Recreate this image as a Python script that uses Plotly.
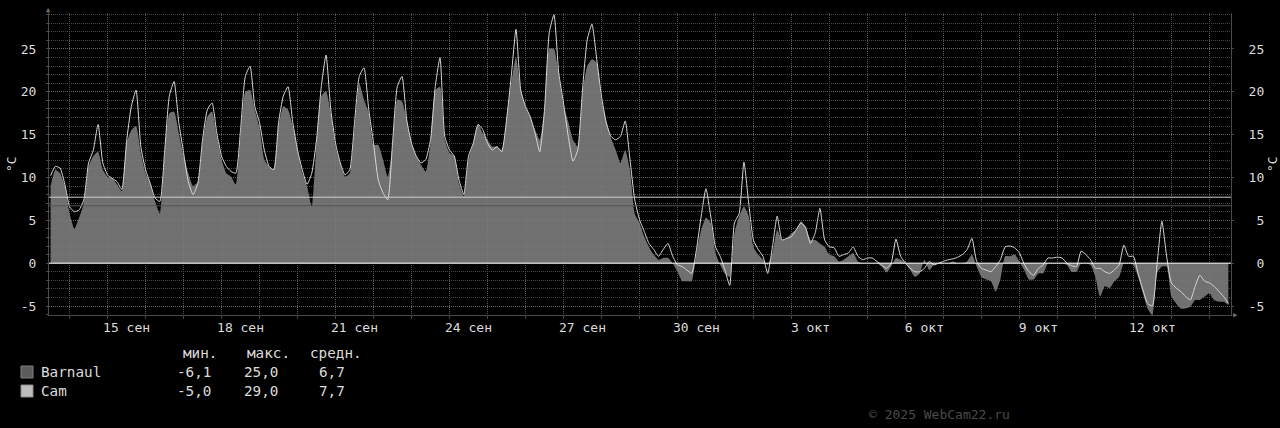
import pandas as pd
import plotly.graph_objects as go

# ---- data (3-hourly samples starting 2025-09-13 12:00) ----
start_time = "2025-09-13 12:00"
step = "3h"

cam = [
    10.2, 11.3, 11.1, 9.2, 6.6, 6.0, 6.2, 7.4, 11.7, 13.2, 16.2, 11.7, 10.3, 9.9, 9.5, 8.6,
    14.2, 18.3, 20.2, 13.6, 10.9, 9.3, 7.6, 7.2, 12.9, 19.5, 21.2, 16.4, 12.9, 9.5, 8.0, 9.3,
    14.4, 17.9, 18.7, 15.2, 12.5, 11.3, 10.7, 10.5, 15.6, 21.8, 23.0, 18.3, 16.4, 13.2, 11.3, 10.9,
    16.4, 19.5, 20.6, 16.4, 13.2, 10.9, 9.2, 10.5, 14.4, 20.6, 24.3, 17.9, 14.0, 11.7, 10.3, 10.9,
    16.4, 21.8, 22.8, 17.9, 14.0, 9.7, 8.2, 7.4, 14.0, 20.6, 21.8, 16.7, 14.0, 12.5, 11.7, 12.1,
    14.4, 20.6, 24.0, 14.8, 13.2, 12.5, 9.7, 8.0, 12.5, 14.0, 16.2, 15.6, 14.0, 13.2, 13.6, 13.0,
    16.7, 21.8, 27.3, 20.2, 18.3, 17.1, 15.2, 13.0, 17.9, 26.9, 29.0, 22.2, 18.7, 14.8, 11.9, 13.2,
    20.2, 26.1, 27.9, 23.8, 19.5, 16.4, 14.8, 14.4, 14.8, 16.6, 12.1, 7.4, 5.1, 3.7, 2.3, 1.6,
    0.8, 1.6, 2.3, 0.8, -0.2, -0.4, -0.8, -1.2, 1.6, 5.5, 8.7, 5.5, 1.9, 0.8, -0.8, -2.6,
    4.7, 5.8, 11.8, 7.0, 2.7, 1.6, 0.8, -1.2, 1.9, 5.5, 2.7, 2.9, 3.1, 3.9, 4.7, 4.1,
    2.3, 3.5, 6.4, 2.7, 1.9, 1.8, 0.8, 1.0, 1.2, 1.9, 0.8, 0.4, 0.6, 0.6, 0.2, -0.2,
    -0.6, 0.0, 2.8, 0.8, 0.0, -0.6, -1.0, -1.0, -0.6, 0.2, -0.2, 0.0, 0.2, 0.4, 0.5, 0.7,
    1.0, 1.6, 2.9, 0.2, -0.6, -0.8, -1.0, -0.4, 0.4, 1.9, 2.0, 1.8, 1.2, -0.1, -1.0, -1.4,
    -0.6, -0.2, 0.6, 0.6, 0.7, 0.6, 0.0, -0.3, -0.4, 1.4, 1.0, 0.4, -0.6, -0.6, -1.0, -1.2,
    -0.8, -0.2, 2.1, 0.8, 0.8, -1.2, -3.1, -4.7, -5.0, 0.0, 4.9, 0.8, -2.3, -2.9, -3.3, -3.9,
    -4.3, -2.7, -1.4, -2.1, -2.3, -2.7, -3.3, -3.9, -4.7,
]

barnaul = [
    9.0, 10.9, 10.5, 9.0, 5.8, 4.0, 5.3, 7.0, 11.3, 12.5, 13.0, 10.9, 10.1, 9.9, 9.2, 8.4,
    14.0, 15.5, 16.0, 12.9, 10.5, 9.3, 7.2, 5.8, 12.5, 17.5, 17.7, 15.2, 12.5, 10.5, 9.0, 9.5,
    14.0, 17.1, 17.7, 14.8, 12.1, 10.5, 10.1, 9.2, 14.8, 20.0, 20.2, 17.9, 15.8, 12.1, 11.3, 10.9,
    16.0, 18.3, 17.9, 16.0, 13.2, 10.5, 9.0, 6.6, 14.0, 19.5, 20.1, 17.5, 13.6, 11.7, 10.1, 10.5,
    15.6, 21.0, 19.1, 17.5, 13.8, 13.8, 12.1, 10.1, 13.6, 19.1, 18.9, 16.7, 14.0, 12.5, 11.5, 10.7,
    14.0, 20.2, 20.6, 14.4, 12.9, 12.5, 9.3, 7.8, 12.1, 14.0, 16.2, 15.2, 14.4, 13.6, 13.6, 13.2,
    16.7, 21.0, 24.1, 20.2, 18.3, 17.1, 15.6, 14.4, 17.9, 25.0, 25.0, 22.0, 18.5, 16.5, 14.4, 13.6,
    19.9, 23.0, 23.8, 23.4, 19.1, 16.7, 14.6, 13.2, 11.7, 13.2, 10.9, 5.8, 4.7, 3.1, 1.9, 1.0,
    0.4, 0.6, 0.6, 0.0, -1.0, -2.1, -2.1, -2.1, 1.2, 3.9, 5.3, 4.7, 1.2, -0.2, -1.2, -1.6,
    3.5, 5.5, 6.6, 5.5, 1.9, 1.0, 0.4, -0.2, 1.2, 3.9, 2.7, 2.9, 3.5, 3.9, 4.9, 4.3,
    2.7, 2.7, 2.3, 1.9, 1.0, 0.8, 0.2, 0.4, 0.8, 1.2, 0.2, 0.0, 0.0, 0.0, 0.0, -0.4,
    -1.1, -0.4, 0.6, 0.4, 0.0, -0.8, -1.6, -1.2, 0.4, -0.8, -0.2, 0.0, 0.0, 0.0, 0.2, 0.0,
    0.0, 0.2, 1.0, -0.4, -1.6, -1.9, -2.1, -3.3, -1.9, 0.8, 0.8, 1.0, 0.2, -0.8, -1.9, -1.9,
    -1.2, -1.2, 0.0, 0.0, 0.0, 0.0, -0.2, -1.0, -1.0, 0.0, 0.0, -0.2, -1.6, -3.9, -2.7, -2.9,
    -2.1, -1.6, 0.0, 0.0, -0.2, -1.6, -3.5, -5.3, -6.1, -1.2, -0.4, -0.4, -3.9, -4.7, -5.3, -5.3,
    -5.1, -4.3, -4.3, -3.9, -3.5, -4.3, -4.5, -4.5, -4.9,
]

series_names = ["Barnaul", "Cam"]
stat_min = [-6.1, -5.0]
stat_max = [25.0, 29.0]
stat_avg = [6.7, 7.7]
stat_headers = ["мин.", "макс.", "средн."]

x_label_dates = ["2025-09-15", "2025-09-18", "2025-09-21", "2025-09-24", "2025-09-27",
                 "2025-09-30", "2025-10-03", "2025-10-06", "2025-10-09", "2025-10-12"]
x_label_text = ["15 сен", "18 сен", "21 сен", "24 сен", "27 сен",
                "30 сен", "3 окт", "6 окт", "9 окт", "12 окт"]
y_ticks = [-5, 0, 5, 10, 15, 20, 25]

# ---- figure ----
times = pd.date_range(start_time, periods=len(cam), freq=step)
x_tickvals = [pd.Timestamp(d) + pd.Timedelta(hours=12) for d in x_label_dates]

MONO = "DejaVu Sans Mono"
TXT = "#dcdcdc"
W, H = 1280, 428
L, R, T, B = 49, 49, 13, 113
PW = W - L - R
PH = H - T - B


def px(xp):
    return (xp - L) / PW


def py(yp):
    return (H - B - yp) / PH


fig = go.Figure()
fig.add_trace(go.Scatter(
    x=times, y=barnaul, mode="lines", fill="tozeroy",
    line=dict(width=0, color="rgba(124,124,124,0.9)", shape="spline", smoothing=0.5),
    fillcolor="rgba(124,124,124,0.9)", name="Barnaul", showlegend=False,
    hoverinfo="skip"))
fig.add_trace(go.Scatter(
    x=times, y=cam, mode="lines",
    line=dict(width=1, color="#d8d8d8", shape="spline", smoothing=0.5),
    name="Cam", showlegend=False, hoverinfo="skip"))
# dummy trace for the right axis
fig.add_trace(go.Scatter(x=[times[0]], y=[0], yaxis="y2", mode="markers",
                         marker=dict(opacity=0), showlegend=False, hoverinfo="skip"))

fig.add_hline(y=stat_avg[0], line=dict(color="#555555", width=1), layer="above")
fig.add_hline(y=stat_avg[1], line=dict(color="#cfcfcf", width=1), layer="above")
fig.add_hline(y=0, line=dict(color="#ffffff", width=1), layer="above")

grid_dash = "1px,1px"
fig.update_layout(
    width=W, height=H, autosize=False,
    margin=dict(l=L, r=R, t=T, b=B),
    paper_bgcolor="#000000", plot_bgcolor="#000000",
    font=dict(family=MONO, size=13, color=TXT),
    showlegend=False,
    xaxis=dict(
        type="date",
        range=["2025-09-13 11:00", "2025-10-14 13:40"],
        tickmode="array", tickvals=x_tickvals, ticktext=x_label_text,
        showgrid=False, ticks="", ticklabelstandoff=0,
        tickfont=dict(family=MONO, size=13, color=TXT),
        showline=True, linecolor="#4a4a4a", linewidth=1,
        zeroline=False,
        minor=dict(tickmode="linear", tick0="2025-09-14", dtick=86400000,
                   showgrid=True, gridcolor="#555555", griddash=grid_dash,
                   gridwidth=1, ticks="outside", ticklen=3, tickcolor="#4a4a4a"),
    ),
    yaxis=dict(
        range=[-6.05, 29.2],
        tickmode="array", tickvals=y_ticks, ticktext=[str(v) for v in y_ticks],
        showgrid=True, gridcolor="#666666", griddash=grid_dash, gridwidth=1,
        ticks="outside", ticklen=2, tickcolor="#4a4a4a", ticklabelstandoff=7,
        tickfont=dict(family=MONO, size=13, color=TXT),
        showline=True, linecolor="#4a4a4a", linewidth=1, zeroline=False,
        minor=dict(tickmode="linear", tick0=0, dtick=1, showgrid=True,
                   gridcolor="#4a4a4a", griddash=grid_dash, gridwidth=1,
                   ticks="outside", ticklen=2, tickcolor="#4a4a4a"),
    ),
    yaxis2=dict(
        overlaying="y", side="right", matches="y", range=[-6.05, 29.2],
        tickmode="array", tickvals=y_ticks,
        ticktext=[f"{v:>2d}".replace(" ", "\u00a0") for v in y_ticks],
        showgrid=False, zeroline=False, ticks="outside", ticklen=2,
        tickcolor="#4a4a4a", ticklabelstandoff=12,
        tickfont=dict(family=MONO, size=13, color=TXT),
        showline=True, linecolor="#4a4a4a", linewidth=1,
    ),
)

ann = []
# axis titles
for xt in (11, 1272):
    ann.append(dict(text="°C", x=px(xt), y=0.5, xref="paper", yref="paper",
                    xanchor="center", yanchor="middle", textangle=-90, showarrow=False,
                    font=dict(family=MONO, size=13, color=TXT)))
# axis arrows
ann.append(dict(text="▲", x=px(48.7), y=py(10), xref="paper", yref="paper",
                xanchor="center", yanchor="middle",
                showarrow=False, font=dict(size=7, color="#707070")))
ann.append(dict(text="▶", x=px(1235), y=py(315), xref="paper", yref="paper",
                xanchor="center", yanchor="middle",
                showarrow=False, font=dict(size=7, color="#707070")))

LF = 14.3
# legend header
for h, xh in zip(stat_headers, [181, 245, 308]):
    ann.append(dict(text=h, x=px(xh), y=py(353), xref="paper", yref="paper",
                    xanchor="left", yanchor="middle", showarrow=False,
                    font=dict(family=MONO, size=LF, color=TXT)))


def fmt(v):
    return f"{v:.1f}".replace(".", ",")


sq_colors = [("#5c5c5c", "#808080"), ("#bdbdbd", "#8a8a8a")]
row_y = [372, 391]
for i, name in enumerate(series_names):
    yy = row_y[i]
    fig.add_shape(type="rect", xref="paper", yref="paper",
                  x0=px(21), x1=px(33), y0=py(yy - 6), y1=py(yy + 6),
                  fillcolor=sq_colors[i][0], line=dict(color=sq_colors[i][1], width=1))
    ann.append(dict(text=name, x=px(38.5), y=py(yy), xref="paper", yref="paper",
                    xanchor="left", yanchor="middle", showarrow=False,
                    font=dict(family=MONO, size=LF, color=TXT)))
    for val, xr in [(stat_min[i], 213), (stat_max[i], 280), (stat_avg[i], 347)]:
        ann.append(dict(text=fmt(val), x=px(xr), y=py(yy), xref="paper", yref="paper",
                        xanchor="right", yanchor="middle", showarrow=False,
                        font=dict(family=MONO, size=LF, color=TXT)))

ann.append(dict(text="© 2025 WebCam22.ru", x=px(867), y=py(414), xref="paper", yref="paper",
                xanchor="left", yanchor="middle", showarrow=False,
                font=dict(family=MONO, size=13, color="#4a4a4a")))

fig.update_layout(annotations=ann)
fig.write_html("out.html", config={"displayModeBar": False},
               post_script="document.body.style.margin='0px';")
